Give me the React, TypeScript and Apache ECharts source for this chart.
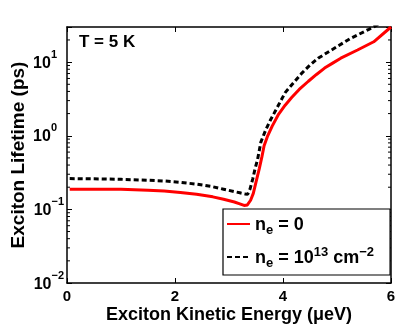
import React, { useEffect, useRef } from "react";
import * as echarts from "echarts";

const FONT = "'Liberation Sans', Arial, Helvetica, sans-serif";

// Series 1: n_e = 0 (red solid)
const redX = [0.05, 0.5, 1.0, 1.5, 1.8, 2.1, 2.4, 2.7, 2.9, 3.1, 3.2, 3.28, 3.34, 3.40, 3.45, 3.50, 3.56, 3.61, 3.65, 3.71, 3.80, 3.92, 4.04, 4.16, 4.30, 4.47, 4.62, 4.77, 4.92, 5.07, 5.38, 5.68, 6.0];
const redY = [0.188, 0.188, 0.187, 0.182, 0.177, 0.170, 0.160, 0.148, 0.137, 0.126, 0.119, 0.113, 0.115, 0.133, 0.165, 0.235, 0.355, 0.52, 0.73, 0.97, 1.35, 1.97, 2.6, 3.3, 4.25, 5.5, 6.8, 8.3, 9.7, 11.3, 14.6, 18.9, 30];

// Series 2: n_e = 10^13 cm^-2 (black dashed)
const blackX = [0.05, 0.5, 1.0, 1.5, 1.8, 2.1, 2.4, 2.7, 2.9, 3.1, 3.2, 3.3, 3.345, 3.39, 3.44, 3.48, 3.53, 3.59, 3.68, 3.77, 3.86, 3.95, 4.04, 4.2, 4.35, 4.5, 4.65, 4.95, 5.25, 5.59, 6.0];
const blackY = [0.262, 0.26, 0.256, 0.249, 0.243, 0.233, 0.220, 0.203, 0.188, 0.174, 0.168, 0.162, 0.160, 0.19, 0.26, 0.35, 0.48, 0.82, 1.2, 1.65, 2.18, 2.9, 3.85, 5.3, 7.1, 9.1, 11.3, 15.4, 21, 27.9, 40];

const seriesNames = ["ne0", "ne13"];
const legendLabels: Record<string, string> = {
  ne0: "{t|n}{sub|e}{t| = 0}",
  ne13: "{t|n}{sub|e}{t| = 10}{sup|13}{t| cm}{sup|\u22122}",
};

// Axis ranges and ticks
const xMin = 0;
const xMax = 6;
const xInterval = 2;
const yMin = 0.01;
const yMax = 30;
const minorTickValues = [0.02, 0.03, 0.04, 0.05, 0.06, 0.07, 0.08, 0.09, 0.2, 0.3, 0.4, 0.5, 0.6, 0.7, 0.8, 0.9, 2, 3, 4, 5, 6, 7, 8, 9, 20];

const xTitle = "Exciton Kinetic Energy (\u03bceV)";
const yTitle = "Exciton Lifetime (ps)";
const annotation = "T = 5 K";

export default function App() {
  const ref = useRef<HTMLDivElement>(null);
  useEffect(() => {
    if (!ref.current) return;
    const chart = echarts.init(ref.current, undefined, { renderer: "svg" });
    const axisLineStyle = { color: "#000", width: 1.5 };
    const yLabelFormatter = (v: number) => {
      const l = Math.log10(v);
      const e = Math.round(l);
      if (Math.abs(l - e) > 1e-6) return "";
      if (e < 0) return `{b|10}{s2|\u2212${Math.abs(e)}}`;
      return `{b|10}{s1|${e}}`;
    };
    const supBase = { fontFamily: FONT, fontSize: 11, fontWeight: "bold", color: "#000", lineHeight: 11, verticalAlign: "top" };
    chart.setOption({
      animation: false,
      title: {
        text: annotation,
        left: 79,
        top: 33,
        padding: 0,
        textStyle: { fontFamily: FONT, fontSize: 17, fontWeight: "bold", color: "#000" },
      },
      grid: { left: 61, right: 8, top: 27, bottom: 42, containLabel: false },
      xAxis: [
        {
          type: "value",
          position: "bottom",
          min: xMin,
          max: xMax,
          interval: xInterval,
          axisLine: { show: true, lineStyle: axisLineStyle },
          axisTick: { show: true, inside: true, length: 5, lineStyle: { color: "#000", width: 1 } },
          axisLabel: { margin: 5, fontFamily: FONT, fontSize: 15, fontWeight: "bold", color: "#000" },
          splitLine: { show: false },
          name: xTitle,
          nameLocation: "middle",
          nameGap: 22,
          nameMoveOverlap: false,
          nameTextStyle: { fontFamily: FONT, fontSize: 18, fontWeight: "bold", color: "#000" },
        },
        {
          type: "value",
          position: "top",
          min: xMin,
          max: xMax,
          interval: xInterval,
          axisLine: { show: true, onZero: false, lineStyle: axisLineStyle },
          axisTick: { show: true, inside: true, length: 5, lineStyle: { color: "#000", width: 1 } },
          axisLabel: { show: false },
          splitLine: { show: false },
        },
      ],
      yAxis: [
        {
          type: "log",
          logBase: 10,
          position: "left",
          min: yMin,
          max: yMax,
          axisLine: { show: true, onZero: false, lineStyle: axisLineStyle },
          axisTick: { show: true, inside: true, length: 5, lineStyle: { color: "#000", width: 1 } },
          axisLabel: {
            margin: 3,
            formatter: yLabelFormatter,
            rich: {
              b: { fontFamily: FONT, fontSize: 16, fontWeight: "bold", color: "#000", lineHeight: 28 },
              s1: { ...supBase, padding: [0, 7, 0, 0] },
              s2: { ...supBase },
            },
          },
          splitLine: { show: false },
          name: yTitle,
          nameLocation: "middle",
          nameGap: 40,
          nameMoveOverlap: false,
          nameTextStyle: { fontFamily: FONT, fontSize: 19, fontWeight: "bold", color: "#000" },
        },
        {
          type: "log",
          logBase: 10,
          position: "right",
          min: yMin,
          max: yMax,
          axisLine: { show: true, onZero: false, lineStyle: axisLineStyle },
          axisTick: { show: true, inside: true, length: 5, lineStyle: { color: "#000", width: 1 } },
          axisLabel: { show: false },
          splitLine: { show: false },
        },
      ],
      legend: {
        data: seriesNames,
        orient: "vertical",
        left: 223,
        top: 209,
        padding: [6, 16, 6, 3],
        itemGap: 9,
        itemWidth: 23,
        itemHeight: 14,
        backgroundColor: "#fff",
        borderColor: "#000",
        borderWidth: 1.2,
        borderRadius: 0,
        itemStyle: { opacity: 0 },
        formatter: (name: string) => legendLabels[name],
        textStyle: {
          color: "#000",
          rich: {
            t: { fontFamily: FONT, fontSize: 18, fontWeight: "bold", color: "#000", lineHeight: 24 },
            sub: { fontFamily: FONT, fontSize: 13, fontWeight: "bold", color: "#000", lineHeight: 12, verticalAlign: "bottom" },
            sup: { fontFamily: FONT, fontSize: 13, fontWeight: "bold", color: "#000", lineHeight: 12, verticalAlign: "top" },
          },
        },
      },
      series: [
        {
          name: "ne0",
          type: "line",
          xAxisIndex: 0,
          yAxisIndex: 0,
          data: redX.map((x, i) => [x, redY[i]]),
          symbol: "none",
          lineStyle: { color: "#ff0000", width: 3 },
          itemStyle: { color: "#ff0000" },
          clip: true,
          z: 3,
        },
        {
          name: "ne13",
          type: "line",
          xAxisIndex: 0,
          yAxisIndex: 0,
          data: blackX.map((x, i) => [x, blackY[i]]),
          symbol: "none",
          lineStyle: { color: "#000", width: 3, type: [5, 3] },
          itemStyle: { color: "#000" },
          clip: true,
          z: 4,
        },
        {
          name: "minorTicks",
          type: "custom",
          xAxisIndex: 0,
          yAxisIndex: 0,
          silent: true,
          data: minorTickValues.map((v) => [xMin, v]),
          renderItem: (params: any, api: any) => {
            const v = api.value(1);
            const pL = api.coord([xMin, v]);
            const pR = api.coord([xMax, v]);
            return {
              type: "group",
              children: [
                { type: "line", shape: { x1: pL[0], y1: pL[1], x2: pL[0] + 3, y2: pL[1] }, style: { stroke: "#000", lineWidth: 1 } },
                { type: "line", shape: { x1: pR[0], y1: pR[1], x2: pR[0] - 3, y2: pR[1] }, style: { stroke: "#000", lineWidth: 1 } },
              ],
            };
          },
          z: 2,
        },
      ],
    });
    return () => chart.dispose();
  }, []);
  return <div ref={ref} style={{ position: "fixed", left: 0, top: 0, width: 399, height: 328 }} />;
}
